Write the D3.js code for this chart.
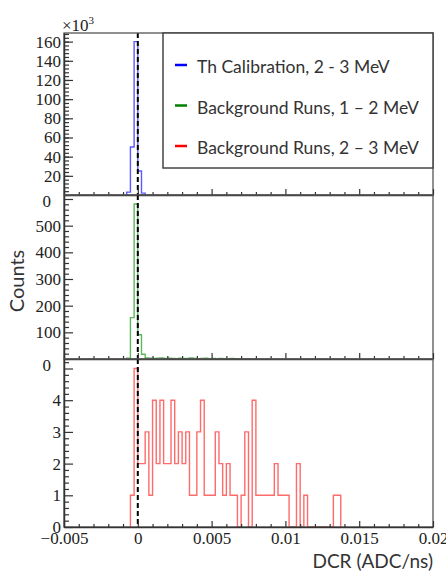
<!DOCTYPE html>
<html>
<head>
<meta charset="utf-8">
<script src="https://cdn.jsdelivr.net/npm/d3@7"></script>
<style>
body{margin:0;background:#fff;}
.tick text{font-family:"Liberation Serif",serif;font-size:17px;fill:#222;}
.sans{font-family:Lato,sans-serif;fill:#333;}
</style>
</head>
<body>
<div id="chart"></div>
<script>
// bins are 0.00025 wide
var binW=0.00025;
var thStart=-0.00075;
var thCounts=[3000,50000,160000,25000,2000];
var bg12Start=-0.00075;
var bg12Counts=[3,155,581,91,18,4,3,2,3,4,2,3,2,1,3,2,2,4,2,1,2,3,1,2,1,2,1,0,2,1,1,0,1,0];
var bg23Start=-0.0005;
var bg23Counts=[1,5,2,2,3,1,4,2,4,2,2,4,2,3,2,3,1,1,3,4,1,1,1,3,2,1,2,1,1,0,1,3,0,4,1,1,1,1,1,2,1,1,1,0,0,2,0,1,0,0,0,0,0,0,0,1,1];
var xTicks=[-0.005,0,0.005,0.01,0.015,0.02];
var xLabels=["\u22120.005","0","0.005","0.01","0.015","0.02"];
var legendNames=["Th Calibration, 2 - 3 MeV","Background Runs, 1 \u2013 2 MeV","Background Runs, 2 \u2013 3 MeV"];
var legendColors=["#0000ff","#008000","#ff0000"];

var wide=446,high=572;
var left=64,right=433;
var svg=d3.select("#chart").append("svg").attr("width",wide).attr("height",high);

var xscale=d3.scaleLinear().domain([-0.005,0.02]).range([left,right]);

var panels=[
  {top:33,bot:195,max:169000,major:d3.range(20000,160001,20000),fmt:function(d){return d/1000;},minor:d3.range(0,168001,4000),
   start:thStart,counts:thCounts,color:"#5a5aff"},
  {top:195,bot:359,max:615,major:d3.range(100,501,100),fmt:function(d){return d;},minor:d3.range(0,601,20).filter(function(d){return d%100;}),extra:[600],
   start:bg12Start,counts:bg12Counts,color:"#5cb85c"},
  {top:359,bot:527,max:5.3,major:d3.range(0,5,1),fmt:function(d){return d;},minor:d3.range(0,5.3,0.2).filter(function(d){return Math.abs(d-Math.round(d))>0.01;}),extra:[5],
   start:bg23Start,counts:bg23Counts,color:"#ff6a6a"}
];

function xMinor(){
  return d3.range(-5,21,1).map(function(d){return d/1000;}).filter(function(d){return xTicks.indexOf(d)<0;});
}

panels.forEach(function(p,i){
  var yscale=d3.scaleLinear().domain([0,p.max]).range([p.bot,p.top]);
  p.y=yscale;
  var g=svg.append("g");
  g.append("clipPath").attr("id","clip"+i).append("rect")
    .attr("x",left).attr("y",p.top).attr("width",right-left).attr("height",p.bot-p.top);
  // histogram outline
  var pts=[[p.start,0]];
  p.counts.forEach(function(c,k){pts.push([p.start+k*binW,c]);});
  pts.push([p.start+p.counts.length*binW,0]);
  var line=d3.line()
    .x(function(d){return xscale(d[0]);})
    .y(function(d){return yscale(d[1]);})
    .curve(d3.curveStepAfter);
  g.append("path")
    .attr("d",line(pts))
    .attr("clip-path","url(#clip"+i+")")
    .attr("fill","none")
    .attr("stroke",p.color)
    .attr("stroke-width",1.4);
  // dashed line at zero
  g.append("line")
    .attr("x1",xscale(0)).attr("x2",xscale(0))
    .attr("y1",p.top).attr("y2",p.bot)
    .attr("stroke","#000").attr("stroke-width",2)
    .attr("stroke-dasharray","5,3");
  // frame
  g.append("rect")
    .attr("x",left).attr("y",p.top).attr("width",right-left).attr("height",p.bot-p.top)
    .attr("fill","none").attr("stroke","#555").attr("stroke-width",1.3);
  // y axis major with labels
  var ymaj=g.append("g").attr("transform","translate("+left+",0)")
    .call(d3.axisLeft(yscale).tickValues(p.major.concat(p.extra||[])).tickFormat(function(d){
      return (p.extra&&p.extra.indexOf(d)>=0)?"":p.fmt(d);}).tickSizeInner(-9).tickSizeOuter(0).tickPadding(3));
  ymaj.select(".domain").attr("stroke","#333").attr("stroke-width",1.5);
  ymaj.selectAll(".tick line").attr("stroke","#333").attr("stroke-width",1.2);
  var ymin=g.append("g").attr("transform","translate("+left+",0)")
    .call(d3.axisLeft(yscale).tickValues(p.minor).tickFormat("").tickSizeInner(-5).tickSizeOuter(0));
  ymin.select(".domain").remove();
  ymin.selectAll(".tick line").attr("stroke","#333").attr("stroke-width",1.2);
  // x axis ticks on panel bottom
  var xmaj=g.append("g").attr("transform","translate(0,"+p.bot+")")
    .call(d3.axisBottom(xscale).tickValues(xTicks).tickFormat(function(d,j){return i==2?xLabels[j]:"";})
      .tickSizeInner(-6).tickSizeOuter(0).tickPadding(5));
  xmaj.select(".domain").attr("stroke","#333").attr("stroke-width",1.5);
  xmaj.selectAll(".tick line").attr("stroke","#333").attr("stroke-width",1.2);
  var xmin=g.append("g").attr("transform","translate(0,"+p.bot+")")
    .call(d3.axisBottom(xscale).tickValues(xMinor()).tickFormat("").tickSizeInner(-3).tickSizeOuter(0));
  xmin.select(".domain").remove();
  xmin.selectAll(".tick line").attr("stroke","#333").attr("stroke-width",1.2);
});

// zero labels of the upper two panels sit a bit lower and further left
[0,1].forEach(function(i){
  svg.append("text")
    .attr("x",51)
    .attr("y",panels[i].y(0)+6+6)
    .attr("text-anchor","end")
    .style("font-family","Liberation Serif, serif")
    .style("font-size","17px")
    .attr("fill","#222")
    .text("0");
});

// exponent
var expo=svg.append("text").attr("x",62).attr("y",31)
  .style("font-family","Liberation Serif, serif").style("font-size","17px").attr("fill","#222");
expo.append("tspan").text("\u00d710");
expo.append("tspan").attr("dy",-7).style("font-size","11px").text("3");

// axis titles
svg.append("text").attr("class","sans")
  .attr("transform","translate(24,281)rotate(-90)")
  .attr("text-anchor","middle")
  .style("font-size","20px")
  .text("Counts");
svg.append("text").attr("class","sans")
  .attr("x",433).attr("y",568)
  .attr("text-anchor","end")
  .style("font-size","19px")
  .text("DCR (ADC/ns)");

// legend
var leg=svg.append("g");
leg.append("rect").attr("x",163).attr("y",33).attr("width",270).attr("height",135)
  .attr("fill","#fff").attr("stroke","#444").attr("stroke-width",1.5);
legendNames.forEach(function(n,j){
  var cy=65+j*40.5;
  leg.append("line").attr("x1",175).attr("x2",187).attr("y1",cy).attr("y2",cy)
    .attr("stroke",legendColors[j]).attr("stroke-width",2.5);
  leg.append("text").attr("class","sans").attr("x",197).attr("y",cy+8)
    .style("font-size","17.5px").text(n);
});
</script>
</body>
</html>
